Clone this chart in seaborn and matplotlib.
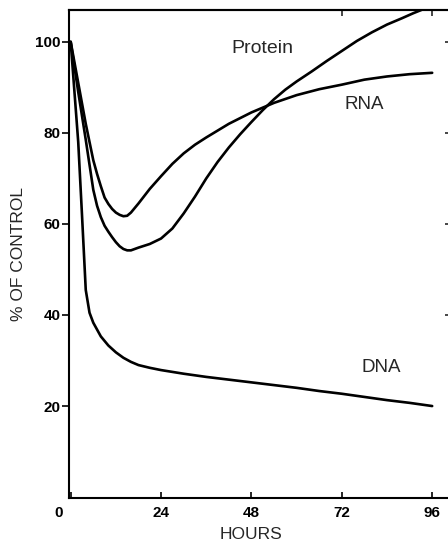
import matplotlib
matplotlib.use("Agg")
import matplotlib.pyplot as plt
import matplotlib.transforms as mtransforms
import numpy as np
import pandas as pd
import seaborn as sns

# ---- data ----
dna_hours = [0, 1, 2, 3, 4, 5, 6, 8, 10, 12, 14, 16, 18, 21, 24, 30, 36, 42, 48,
             54, 60, 66, 72, 78, 84, 90, 96]
dna_vals = [100, 89, 78, 62, 45.5, 40.5, 38.3, 35.3, 33.3, 31.8, 30.6, 29.7, 29.0,
            28.4, 27.9, 27.1, 26.4, 25.8, 25.2, 24.6, 24.0, 23.3, 22.7, 22.0, 21.3,
            20.7, 20.0]

rna_hours = [0, 2, 4, 6, 7, 8, 9, 10, 11, 12, 13, 14, 15, 16, 18, 21, 24, 27, 30,
             33, 36, 42, 48, 54, 60, 66, 72, 78, 84, 90, 96]
rna_vals = [100, 91, 82, 74, 71, 68.3, 65.8, 64.4, 63.3, 62.5, 62.0, 61.7, 61.8,
            62.5, 64.5, 67.7, 70.5, 73.2, 75.5, 77.4, 79.0, 82.0, 84.5, 86.6, 88.3,
            89.6, 90.6, 91.7, 92.4, 92.9, 93.2]

prot_hours = [0, 2, 4, 5, 6, 7, 8, 9, 10, 11, 12, 13, 14, 15, 16, 18, 21, 24, 27,
              30, 33, 36, 39, 42, 45, 48, 51, 54, 57, 60, 64, 68, 72, 76, 80, 84,
              88, 91, 94]
prot_vals = [100, 89, 78.5, 73, 67.5, 64.0, 61.5, 59.6, 58.3, 57.1, 56.0, 55.1,
             54.5, 54.2, 54.2, 54.8, 55.6, 56.8, 59.0, 62.3, 66.0, 70.0, 73.6, 76.8,
             79.7, 82.4, 85.0, 87.4, 89.5, 91.3, 93.5, 95.8, 98.0, 100.2, 102.1,
             103.8, 105.2, 106.3, 107.3]

x_ticks = [0, 24, 48, 72, 96]
y_ticks = [20, 40, 60, 80, 100]
series_names = ["DNA", "RNA", "Protein"]

df = pd.concat([
    pd.DataFrame({"hours": dna_hours, "pct": dna_vals, "series": "DNA"}),
    pd.DataFrame({"hours": rna_hours, "pct": rna_vals, "series": "RNA"}),
    pd.DataFrame({"hours": prot_hours, "pct": prot_vals, "series": "Protein"}),
], ignore_index=True)

sns.set_style("ticks")
plt.rcParams["font.family"] = ["Liberation Sans", "DejaVu Sans"]

fig = plt.figure(figsize=(4.48, 5.44), dpi=100)
ax = fig.add_axes([69 / 448, 46 / 544, 379 / 448, 488 / 544])

sns.lineplot(data=df, x="hours", y="pct", hue="series", units="series",
             estimator=None, sort=False, palette={s: "black" for s in series_names},
             linewidth=1.9, legend=False, ax=ax)

ax.set_xlim(-0.45, 100.2)
ax.set_ylim(-0.2, 107.0)

for side in ["left", "bottom", "top"]:
    ax.spines[side].set_visible(True)
    ax.spines[side].set_linewidth(1.5)
    ax.spines[side].set_color("black")
ax.spines["right"].set_visible(False)

ax.set_xticks(x_ticks)
ax.set_xticklabels([str(v) for v in x_ticks])
ax.set_yticks(y_ticks)
ax.set_yticklabels([str(v) for v in y_ticks])
ax.tick_params(axis="x", direction="in", length=4, width=1.2, pad=6,
               labelsize=11, colors="black")
ax.tick_params(axis="y", direction="out", length=5, width=1.2, pad=1,
               labelsize=11, colors="black")
for lbl in ax.get_xticklabels() + ax.get_yticklabels():
    lbl.set_fontweight("bold")

# shift the "0" tick label slightly left as in the reference
lbl0 = ax.get_xticklabels()[0]
lbl0.set_transform(lbl0.get_transform() +
                   mtransforms.ScaledTranslation(-0.12, 0, fig.dpi_scale_trans))

# small ticks on top spine
top = ax.secondary_xaxis("top")
top.set_xticks([72, 96])
top.set_xticklabels([])
top.tick_params(direction="in", length=4, width=1.2)
top.spines["top"].set_linewidth(1.5)

# tiny marks on right edge
right = ax.secondary_yaxis("right")
right.set_yticks([40, 60, 80, 100])
right.set_yticklabels([])
right.tick_params(direction="in", length=2, width=1.2)
right.spines["right"].set_visible(False)

ax.set_xlabel("HOURS", fontsize=12.5)
ax.set_ylabel("% OF CONTROL", fontsize=12.5)
ax.xaxis.label.set_va("center")
ax.yaxis.label.set_va("center")
ax.xaxis.set_label_coords(0.48, -0.075)
ax.yaxis.set_label_coords(-0.132, 0.50)

ax.text(50.8, 98.5, "Protein", fontsize=14, ha="center", va="center")
ax.text(78.0, 86.3, "RNA", fontsize=13.5, ha="center", va="center")
ax.text(82.4, 28.5, "DNA", fontsize=13.5, ha="center", va="center")

fig.savefig("out.png", dpi=100)
